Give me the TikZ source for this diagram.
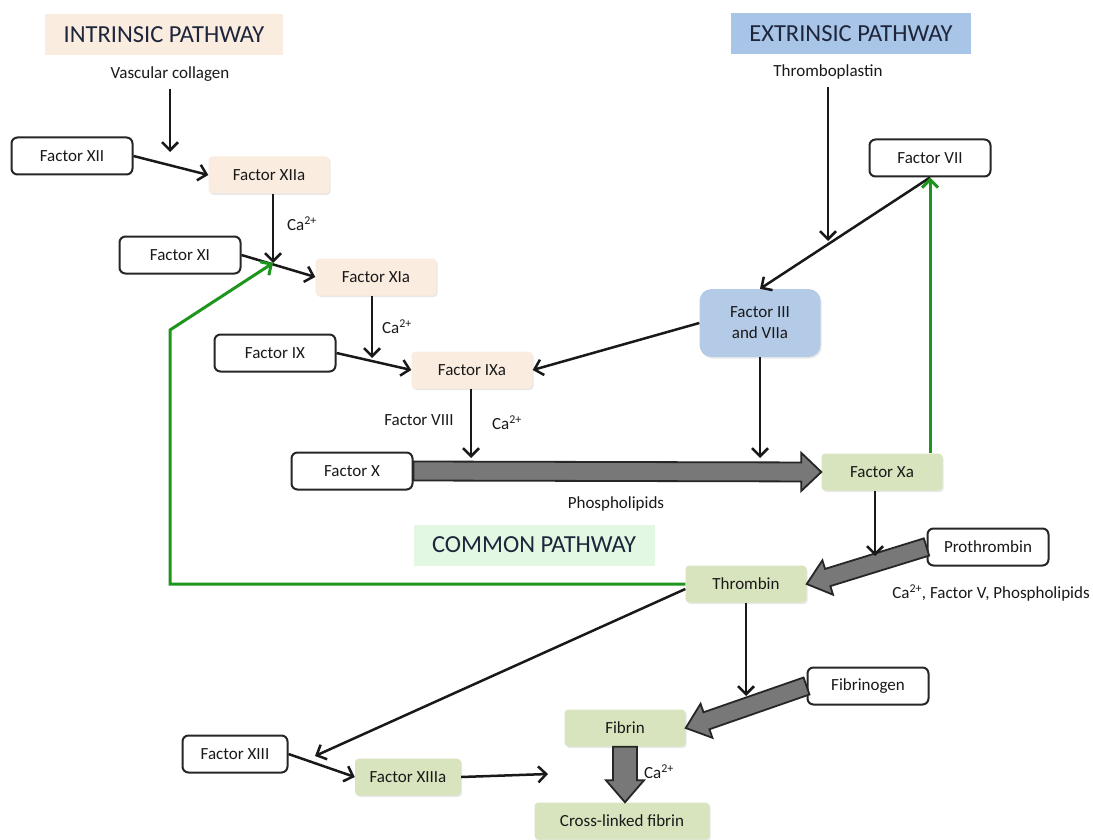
\documentclass[tikz,border=0pt]{standalone}
\usepackage{fontspec}
\setmainfont{Carlito}
\usetikzlibrary{calc,arrows.meta,shadows}
\definecolor{peach}{RGB}{251,236,224}
\definecolor{bluebox}{RGB}{180,203,232}
\definecolor{bluetitle}{RGB}{168,196,230}
\definecolor{greenbox}{RGB}{216,228,190}
\definecolor{greentitle}{RGB}{226,248,226}
\definecolor{fbgreen}{RGB}{30,150,30}
\definecolor{titletext}{RGB}{30,38,60}
\definecolor{fatgray}{RGB}{120,120,120}
\newcommand\fatarr[5]{% start, end, half shaft, half head, head length
  \coordinate (fah) at ($(#2)!#5!(#1)$);
  \draw[fatstyle] ($(#1)!#3!90:(#2)$) -- ($(fah)!#3!90:(#2)$) -- ($(fah)!#4!90:(#2)$) -- (#2)
    -- ($(fah)!#4!-90:(#2)$) -- ($(fah)!#3!-90:(#2)$) -- ($(#1)!#3!-90:(#2)$) -- cycle;}
\tikzset{
  lbl/.style={font=\fontsize{17}{21}\selectfont, text=black!90, inner sep=1pt},
  ttl/.style={font=\fontsize{24.5}{28}\selectfont, text=titletext, inner sep=0pt, minimum height=41pt},
  sh/.style={drop shadow={shadow xshift=1.2pt, shadow yshift=-1.5pt, opacity=0.18}},
  bx/.style={lbl, minimum width=121pt, minimum height=37pt, inner sep=0pt},
  wbox/.style={bx, draw=black!85, line width=2pt, fill=white, rounded corners=6pt},
  pbox/.style={bx, fill=peach, rounded corners=4pt, sh},
  gbox/.style={bx, fill=greenbox, rounded corners=4pt, sh},
  bbox/.style={bx, fill=bluebox, rounded corners=12pt, sh},
  arr/.style={line width=2.5pt, draw=black!90, -{Straight Barb[length=8pt,width=16pt]}},
  garr/.style={line width=3pt, draw=fbgreen, -{Straight Barb[length=8pt,width=16pt]}},
  fatstyle/.style={draw=black!85, line width=1.8pt, fill=fatgray, line join=miter},
}
\begin{document}
\begin{tikzpicture}[x=1pt,y=-1pt]
\useasboundingbox[fill=white] (0,0) rectangle (1093,840);
% titles
\node[ttl, fill=peach, minimum width=238pt] (it) at (164,35) {INTRINSIC PATHWAY};
\node[ttl, fill=bluetitle, minimum width=240pt] (et) at (851,34) {EXTRINSIC PATHWAY};
\node[ttl, fill=greentitle, minimum width=241pt] (ct) at (534,545) {COMMON PATHWAY};
% text labels
\node[lbl] (vc) at (170,74) {Vascular collagen};
\node[lbl] (tp) at (828,72) {Thromboplastin};
\node[lbl] (ca1) at (302,224) {Ca\textsuperscript{2+}};
\node[lbl] (ca2) at (397,327) {Ca\textsuperscript{2+}};
\node[lbl] (f8) at (419,420) {Factor VIII};
\node[lbl] (ca3) at (507,423) {Ca\textsuperscript{2+}};
\node[lbl] (phos) at (616,504) {Phospholipids};
\node[lbl] (cfv) at (991,593) {Ca\textsuperscript{2+}, Factor V, Phospholipids};
\node[lbl] (ca4) at (659,772) {Ca\textsuperscript{2+}};
% boxes
\node[wbox] (f12) at (72,156) {Factor XII};
\node[pbox] (f12a) at (269,175) {Factor XIIa};
\node[wbox] (f11) at (180,255) {Factor XI};
\node[pbox] (f11a) at (376,277) {Factor XIa};
\node[wbox] (f9) at (275,353) {Factor IX};
\node[pbox] (f9a) at (472,370) {Factor IXa};
\node[wbox] (f10) at (352,471) {Factor X};
\node[gbox] (f10a) at (882,472) {Factor Xa};
\node[wbox] (f7) at (930,158) {Factor VII};
\node[bbox, minimum height=68pt, align=center] (f3) at (760,323) {Factor III\\and VIIa};
\node[wbox] (pro) at (988,547) {Prothrombin};
\node[gbox] (thr) at (746,584) {Thrombin};
\node[wbox] (fbg) at (868,686) {Fibrinogen};
\node[gbox] (fib) at (625,728) {Fibrin};
\node[gbox, minimum width=175pt] (xl) at (622,821) {Cross-linked fibrin};
\node[wbox, minimum width=105pt] (f13) at (235,754) {Factor XIII};
\node[gbox, minimum width=106pt] (f13a) at (408,777) {Factor XIIIa};
% fat arrows
\fatarr{f10.east}{f10a.west}{9.5pt}{19pt}{20pt}
\fatarr{pro.west}{thr.east}{9pt}{18pt}{22pt}
\fatarr{fbg.west}{fib.east}{9pt}{18pt}{22pt}
\coordinate (xltop) at (fib.south |- xl.north);
\fatarr{fib.south}{xltop}{12pt}{19pt}{22pt}
% junction coordinates
\coordinate (j0) at (170,152);
\coordinate (j1) at (273,263);
\coordinate (j2) at (372,358);
\coordinate (j3) at (471,458);
\coordinate (j4) at (760,458);
\coordinate (jt) at (828,241);
\coordinate (jx) at (875,556);
\coordinate (jth) at (746,696);
\coordinate (j5) at (315,756);
\coordinate (j6) at (548,774);
\coordinate (g1) at (170,584);
\coordinate (g2) at (170,330);
% black arrows
\draw[arr] ($(vc.south)+(0,6)$) -- (j0);
\draw[arr] (f12.east) -- (f12a.west);
\draw[arr] (f12a.south -| j1) -- (j1);
\draw[arr] (f11.east) -- (f11a.west);
\draw[arr] (f11a.south -| j2) -- (j2);
\draw[arr] (f9.east) -- (f9a.west);
\draw[arr] (f3.west) -- (f9a.east);
\draw[arr] (f9a.south -| j3) -- (j3);
\draw[arr] (f3.south) -- (j4);
\draw[arr] (f7.south) -- (f3.north);
\draw[arr] ($(tp.south)+(0,7)$) -- (jt);
\draw[arr] (f10a.south -| jx) -- (jx);
\draw[arr] (thr.south) -- (jth);
\draw[arr] ($(thr.west)+(0,5)$) -- (j5);
\draw[arr] (f13.east) -- (f13a.west);
\draw[arr] (f13a.east) -- (j6);
% green feedback arrows
\draw[garr] (thr.west) -- (g1) -- (g2) -- (j1);
\draw[garr] (f7.south |- f10a.north) -- (f7.south);
\end{tikzpicture}
\end{document}
